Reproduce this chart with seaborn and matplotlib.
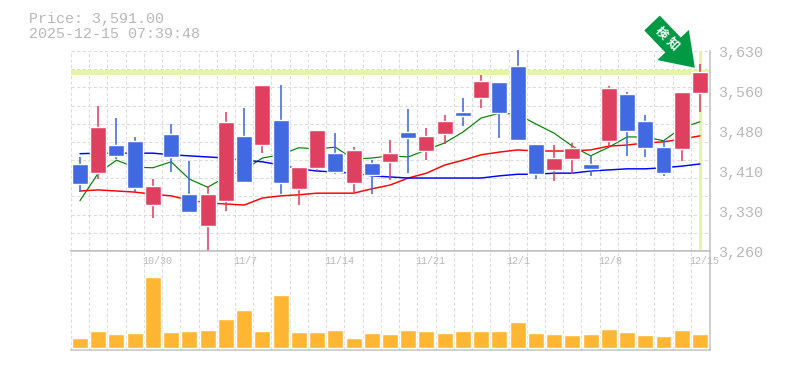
import numpy as np
import pandas as pd
import seaborn as sns
from matplotlib import pyplot as plt
from matplotlib.transforms import ScaledTranslation

# daily candles, oldest first
opens = [3421, 3404, 3456, 3464, 3345, 3476, 3365, 3306, 3352, 3473, 3456, 3502, 3375, 3414, 3441, 3386, 3423, 3425,
         3480, 3445, 3476, 3517, 3543, 3573, 3602, 3458, 3410, 3430, 3421, 3464, 3550, 3500, 3452, 3449, 3552]
highs = [3434, 3528, 3506, 3471, 3393, 3495, 3426, 3380, 3517, 3525, 3567, 3567, 3415, 3484, 3478, 3452, 3428, 3465,
         3523, 3488, 3512, 3543, 3586, 3573, 3632, 3458, 3456, 3460, 3438, 3565, 3554, 3512, 3465, 3554, 3606]
lows = [3369, 3393, 3430, 3369, 3321, 3406, 3332, 3260, 3334, 3388, 3441, 3365, 3345, 3408, 3402, 3365, 3365, 3391,
        3404, 3428, 3458, 3491, 3525, 3469, 3465, 3393, 3389, 3402, 3399, 3452, 3436, 3434, 3399, 3426, 3517]
closes = [3384, 3489, 3436, 3377, 3380, 3434, 3332, 3365, 3499, 3388, 3567, 3386, 3415, 3484, 3406, 3447, 3401, 3441,
          3469, 3473, 3500, 3510, 3574, 3515, 3465, 3402, 3432, 3451, 3412, 3562, 3482, 3451, 3404, 3554, 3591]

ma_short = [3353, 3404, 3428, 3415, 3414, 3425, 3393, 3378, 3397, 3410, 3432, 3438, 3451, 3449, 3452, 3430, 3432, 3436,
            3434, 3447, 3460, 3480, 3506, 3515, 3513, 3495, 3478, 3454, 3436, 3452, 3471, 3471, 3464, 3488, 3499]
ma_mid = [3371, 3373, 3371, 3369, 3365, 3362, 3354, 3349, 3347, 3345, 3358, 3362, 3364, 3367, 3367, 3367, 3375, 3382,
          3395, 3404, 3419, 3428, 3438, 3443, 3447, 3445, 3445, 3445, 3447, 3454, 3456, 3460, 3462, 3467, 3473]
ma_long = [3440, 3441, 3441, 3441, 3441, 3438, 3436, 3434, 3432, 3428, 3425, 3419, 3412, 3408, 3406, 3404, 3399, 3397,
           3395, 3395, 3395, 3395, 3395, 3399, 3402, 3402, 3404, 3404, 3408, 3410, 3412, 3412, 3414, 3417, 3421]

volumes = [10, 17, 14, 15, 71, 16, 17, 18, 29, 38, 17, 53, 16, 16, 18, 10, 15, 14,
           18, 17, 15, 17, 17, 17, 26, 15, 14, 13, 14, 19, 16, 13, 12, 18, 14]

date_positions = [4, 9, 14, 19, 24, 29, 34]
date_labels = ["10/30", "11/7", "11/14", "11/21", "12/1", "12/8", "12/15"]
price_labels = ["3,630", "3,560", "3,480", "3,410", "3,330", "3,260"]
last_price = 3591

UP = "#e04060"
DOWN = "#4169e1"
PALE = "#e4f5a8"
GRID = "#dcdcdc"
TEXT = "#b8b8b8"
FRAME = "#c0c0c0"

W, H = 785, 370
LEFT, RIGHT = 70.5, 710
TOP, MID, BOTTOM = 51, 251, 350

sns.set_style("white")
plt.rcParams["font.family"] = ["Liberation Mono", "DejaVu Sans Mono"]

df = pd.DataFrame({"day": np.arange(len(closes)), "open": opens, "high": highs, "low": lows, "close": closes,
                   "ma_short": ma_short, "ma_mid": ma_mid, "ma_long": ma_long, "volume": volumes})
df["body_low"] = df[["open", "close"]].min(axis=1)
df["body_high"] = df[["open", "close"]].max(axis=1)
df["color"] = np.where(df["close"] >= df["open"], UP, DOWN)

fig = plt.figure(figsize=(W / 100, H / 100), dpi=100, facecolor="white")
axis1 = fig.add_axes([LEFT / W, 1 - MID / H, (RIGHT - LEFT) / W, (MID - TOP) / H])
axis2 = fig.add_axes([LEFT / W, 1 - BOTTOM / H, (RIGHT - LEFT) / W, (BOTTOM - MID) / H])

# price panel
axis1.axhline(last_price, color=PALE, lw=3.6, zorder=1.5)
axis1.axvline(34, ymin=0.015, color=PALE, lw=2.2, zorder=1.5)
sns.lineplot(data=df, x="day", y="ma_short", color="#008000", lw=0.85, ax=axis1, zorder=2)
sns.lineplot(data=df, x="day", y="ma_mid", color="#ff0000", lw=1.05, ax=axis1, zorder=2)
sns.lineplot(data=df, x="day", y="ma_long", color="#0000ff", lw=1.05, ax=axis1, zorder=2)
axis1.vlines(df["day"], df["low"], df["high"], colors=df["color"], lw=1.15, zorder=3, clip_on=False)
axis1.bar(df["day"], df["body_high"] - df["body_low"], bottom=df["body_low"], width=0.877, color=df["color"], zorder=4)

# volume panel
sns.barplot(data=df, x="day", y="volume", color="#ffb733", saturation=1, width=0.877, native_scale=True, ax=axis2,
            zorder=3)

grid_x = np.arange(-0.5, 34, 1)
for ax in (axis1, axis2):
    ax.set_xlim(-0.52, 34.55)
    ax.set_xticks(grid_x)
    ax.set_xticklabels([])
    ax.set_xlabel("")
    ax.set_ylabel("")
    ax.tick_params(axis="both", which="both", length=0)
    ax.xaxis.grid(True, color=GRID, lw=0.8, ls=(0, (3, 2)))
    ax.set_axisbelow(True)
    for side in ax.spines:
        ax.spines[side].set_color(FRAME)
        ax.spines[side].set_linewidth(1.1)
    ax.spines["left"].set_visible(False)

axis1.spines["top"].set_visible(False)
axis1.set_ylim(3260, 3630)
axis1.yaxis.remove_overlapping_locs = False
axis1.set_yticks(np.linspace(3260, 3630, 12), minor=True)
axis1.yaxis.grid(True, which="minor", color=GRID, lw=0.8, ls=(0, (3, 2)))
axis1.set_yticks(np.linspace(3630, 3260, 6), price_labels)
axis1.yaxis.grid(False, which="major")
axis1.yaxis.tick_right()
axis1.tick_params(axis="y", which="both", length=0)
axis1.tick_params(axis="y", which="major", pad=5.5, labelcolor=TEXT, labelsize=10.8)
# the labels sit a little under their tick
nudge = ScaledTranslation(0, -2.5 / 100, fig.dpi_scale_trans)
for label in axis1.get_yticklabels():
    label.set_verticalalignment("center")
    label.set_transform(label.get_transform() + nudge)

axis2.set_ylim(-2, 97)
axis2.set_yticks([])

for pos, label in zip(date_positions, date_labels):
    axis2.annotate(label, xy=(pos, 97), xytext=(-7.9, -3.6), textcoords="offset points", ha="left", va="top",
                   color=TEXT, fontsize=7.2, zorder=5, annotation_clip=False)

fig.text(29 / W, 1 - 23.5 / H, f"Price: {last_price:,.2f}", color=TEXT, fontsize=10.8, ha="left", va="baseline")
fig.text(29 / W, 1 - 38.5 / H, "2025-12-15 07:39:48", color=TEXT, fontsize=10.8, ha="left", va="baseline")

# green marker pointing at the last candle
axis1.annotate("", xy=(34 - 0.28, last_price + 8), xycoords="data", xytext=(652 / W, 1 - 23 / H),
               textcoords="figure fraction", annotation_clip=False, zorder=6,
               arrowprops=dict(arrowstyle="simple,head_length=22.7,head_width=31.4,tail_width=15.5", mutation_scale=1,
                               color="#009944", lw=0, shrinkA=0, shrinkB=0))
for (cx, cy), glyph in zip([(661.7, 33.3), (672, 44)], "検知"):
    fig.text(cx / W, 1 - cy / H, glyph, color="white", fontsize=8.8, fontweight="bold", rotation=-45, ha="center",
             va="center", rotation_mode="anchor", family=["Noto Sans CJK JP", "DejaVu Sans"], zorder=10)

fig.savefig("out.png", dpi=100, facecolor="white")
